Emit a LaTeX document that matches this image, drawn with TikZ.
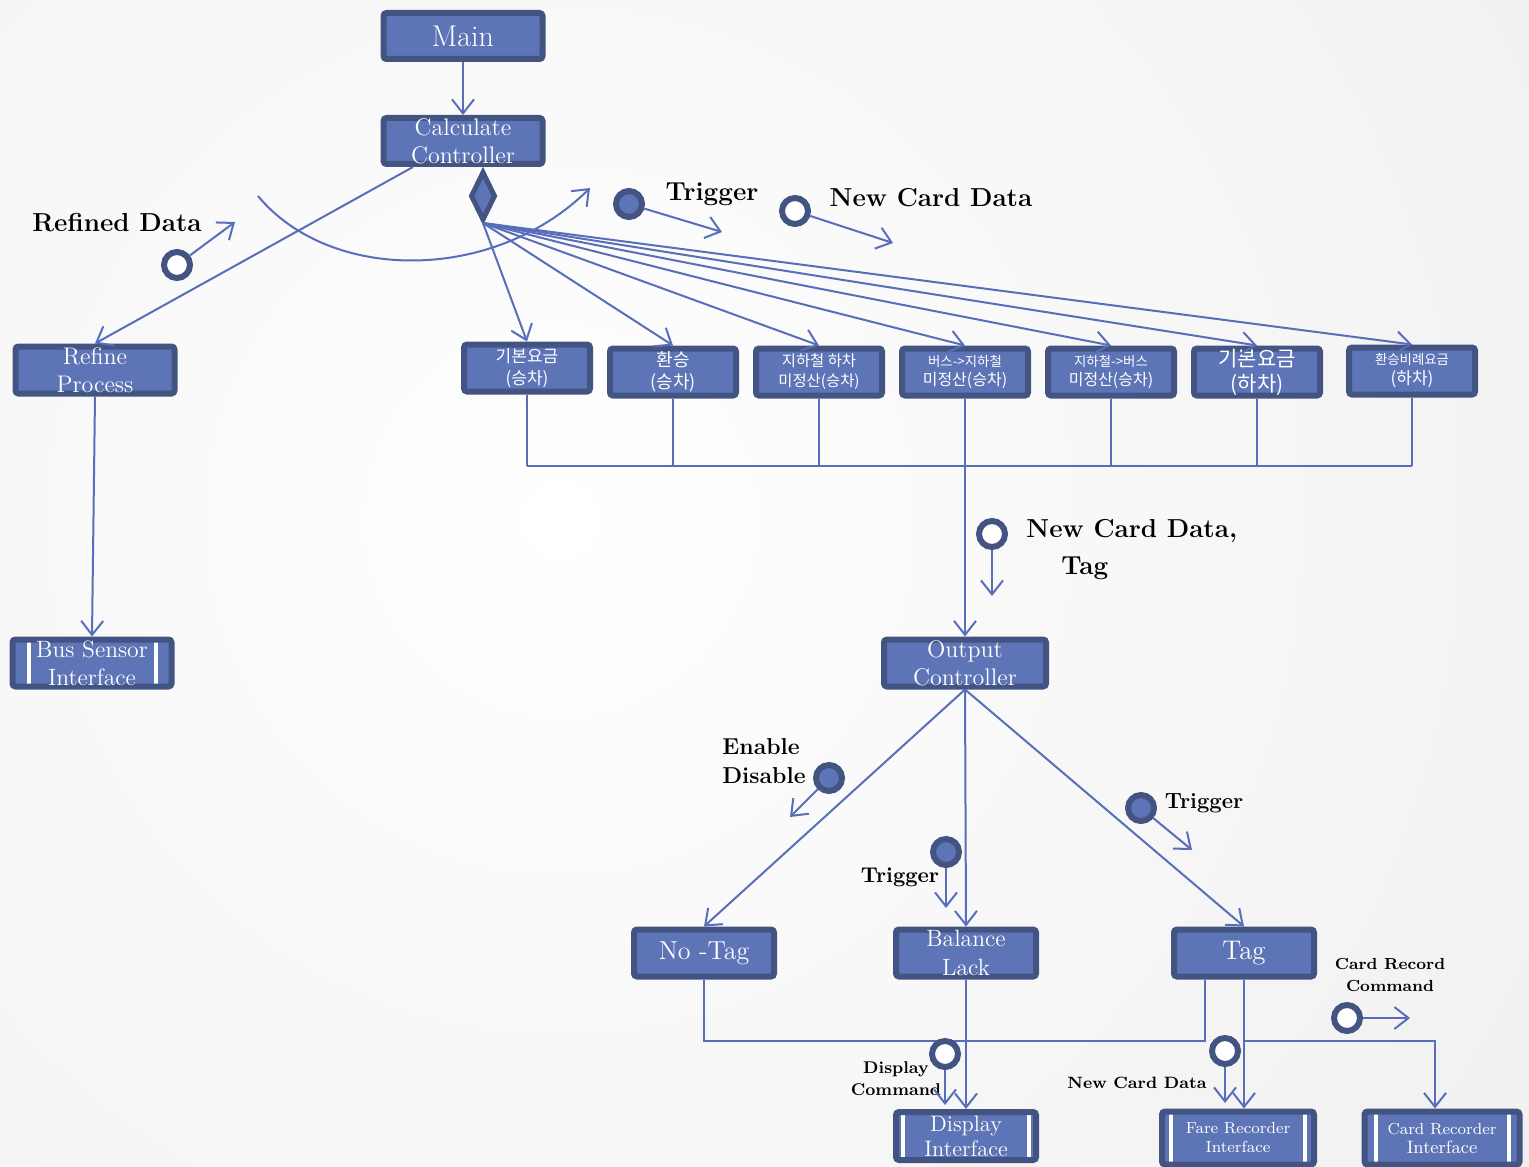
\documentclass[tikz,border=0pt]{standalone}
\usepackage{fontspec}
\newfontfamily\kr{Noto Sans CJK KR}
\usetikzlibrary{arrows.meta,calc,shapes.geometric}
\definecolor{boxblue}{RGB}{93,117,182}
\definecolor{boxdark}{RGB}{67,84,130}
\definecolor{lineblue}{RGB}{88,110,186}
\begin{document}
\begin{tikzpicture}[x=0.5pt,y=-0.5pt,
  box/.style={draw=boxdark, fill=boxblue, line width=3pt, rounded corners=1.5pt, text=white, align=center, inner sep=0pt, font=\fontsize{12}{14}\selectfont},
  kbox/.style={box, minimum width=63pt, minimum height=23.5pt},
  ifc/.style={path picture={
      \draw[white, line width=2pt] ([xshift=#1]path picture bounding box.north west) -- ([xshift=#1]path picture bounding box.south west);
      \draw[white, line width=2pt] ([xshift=-#1]path picture bounding box.north east) -- ([xshift=-#1]path picture bounding box.south east);}},
  conn/.style={draw=lineblue, line width=1pt, -{Straight Barb[length=7pt,width=11pt]}},
  plain/.style={draw=lineblue, line width=1pt},
  msgo/.style={circle, draw=boxdark, line width=3pt, fill=white, minimum size=13pt, inner sep=0pt},
  msgf/.style={msgo, fill=boxblue},
  lab/.style={font=\bfseries\fontsize{13}{15}\selectfont, align=left, inner sep=0pt},
]
\useasboundingbox (0,0) rectangle (1529,1166);
\begin{scope}
  \clip (0,0) rectangle (1529,1166);
  \shade[inner color=white, outer color=black!9] (560,520) circle (1800);
\end{scope}

% ---- boxes ----
\node[box, minimum width=79.5pt, minimum height=23pt, font=\fontsize{15}{17}\selectfont] (main) at (463,36) {Main};
\node[box, minimum width=79.5pt, minimum height=23pt] (calc) at (463,141) {Calculate\\Controller};
\node[diamond, draw=boxdark, fill=boxblue, line width=2.5pt, minimum width=12.5pt, minimum height=24.5pt, inner sep=0pt] (dia) at (483,196) {};
\node[box, minimum width=79.5pt, minimum height=23.5pt] (refine) at (95,370) {Refine\\Process};
\node[box, ifc=8pt, minimum width=79.5pt, minimum height=23.5pt, font=\fontsize{11.8}{14}\selectfont] (bus) at (92,663) {Bus Sensor\\Interface};

\node[kbox, font=\kr\fontsize{8.5}{11}\selectfont] (k1) at (527,368) {기본요금\\(승차)};
\node[kbox, font=\kr\fontsize{9}{11}\selectfont] (k2) at (673,372) {환승\\(승차)};
\node[kbox, font=\kr\fontsize{7.7}{10}\selectfont] (k3) at (819,372) {지하철 하차\\미정산(승차)};
\node[kbox, font=\kr\fontsize{8}{9.5}\selectfont] (k4) at (965,372) {{\fontsize{6.7}{8}\selectfont 버스->지하철}\\미정산(승차)};
\node[kbox, font=\kr\fontsize{8}{9.5}\selectfont] (k5) at (1111,372) {{\fontsize{6.7}{8}\selectfont 지하철->버스}\\미정산(승차)};
\node[kbox, font=\kr\fontsize{10.5}{12.5}\selectfont] (k6) at (1257,372) {기본요금\\(하차)};
\node[kbox, font=\kr\fontsize{8.5}{10}\selectfont] (k7) at (1412,371) {{\fontsize{6.7}{8}\selectfont 환승비례요금}\\(하차)};

\node[box, minimum width=81pt, minimum height=23.5pt] (out) at (965,663) {Output\\Controller};
\node[box, minimum width=70pt, minimum height=23.5pt, font=\fontsize{13}{15}\selectfont] (notag) at (704,953) {No -Tag};
\node[box, minimum width=70pt, minimum height=23.5pt, font=\fontsize{11.8}{14.5}\selectfont] (bal) at (966,953) {Balance\\Lack};
\node[box, minimum width=70pt, minimum height=23.5pt, font=\fontsize{13.5}{15}\selectfont] (tag) at (1244,953) {Tag};
\node[box, ifc=3.5pt, minimum width=70pt, minimum height=24pt, font=\fontsize{11.2}{12.5}\selectfont] (disp) at (966,1136) {Display\\Interface};
\node[box, ifc=4.5pt, minimum width=76pt, minimum height=26.5pt, font=\fontsize{8}{9.5}\selectfont] (fare) at (1238,1138) {Fare Recorder\\Interface};
\node[box, ifc=5.5pt, minimum width=77.5pt, minimum height=26.5pt, font=\fontsize{8}{9.5}\selectfont] (card) at (1442,1138) {Card Recorder\\{\fontsize{9}{10}\selectfont Interface}};

% ---- connectors ----
\draw[conn] (main) -- (calc);
\draw[conn] ($(calc.south)+(-50,0)$) -- (refine.north);
\draw[conn] (refine.south) -- (bus.north);
\foreach \k in {k1,k2,k3,k4,k5,k6,k7} {
  \draw[conn] (dia.south) -- (\k.north);
}
\coordinate (busy) at (0,466);
\foreach \k in {k1,k2,k3,k5,k6,k7} {
  \draw[plain] (\k.south) -- (\k.south |- busy);
}
\draw[plain] (k1.south |- busy) -- (k7.south |- busy);
\draw[conn] (k4.south) -- (out.north);
\draw[conn] (out.south) -- (notag.north);
\draw[conn] (out.south) -- (bal.north);
\draw[conn] (out.south) -- (tag.north);
\coordinate (lowy) at (0,1041);
\draw[plain] (notag.south) -- (notag.south |- lowy) -| ($(tag.south)+(-39,0)$);
\draw[conn] (bal.south) -- (disp.north);
\draw[conn] (tag.south) -- (tag.south |- fare.north);
\draw[conn] (tag.south |- lowy) -| ($(card.north)+(-7,0)$);

% ---- loop arc ----
\coordinate (as) at (258,196);
\coordinate (ae) at (590,188);
\draw[conn] (as) .. controls (330,283) and (494,283) .. (ae);

% ---- messages ----
\node[lab] (lrd) at (117,223) {Refined Data};
\node[msgo] (crd) at (177,265) {};
\coordinate (erd) at (235,222);
\draw[conn] (crd) -- (erd);

\node[msgf] (ct1) at (629,204) {};
\node[lab] (lt1) at (712,194) {Trigger};
\coordinate (et1) at (722,232);
\draw[conn] (ct1) -- (et1);

\node[msgo] (cn1) at (795,211) {};
\node[lab] (ln1) at (931,198) {New Card Data};
\coordinate (en1) at (893,243);
\draw[conn] (cn1) -- (en1);

\node[msgo] (cn2) at (992,534) {};
\node[lab, anchor=west] (ln2a) at (1026,531) {New Card Data,};
\node[lab, anchor=west] (ln2b) at (1061,568) {Tag};
\coordinate (en2) at (992,596);
\draw[conn] (cn2) -- (en2);

\node[lab, anchor=west, font=\bfseries\fontsize{11.5}{14.5}\selectfont] (led) at (722,761) {Enable\\Disable};
\node[msgf] (ced) at (829,778) {};
\coordinate (eed) at (790,817);
\draw[conn] (ced) -- (eed);

\node[msgf] (ct2) at (946,852) {};
\node[lab, font=\bfseries\fontsize{10.7}{13}\selectfont] (lt2) at (900,877) {Trigger};
\coordinate (et2) at (946,908);
\draw[conn] (ct2) -- (et2);

\node[msgf] (ct3) at (1141,808) {};
\node[lab, font=\bfseries\fontsize{11}{13}\selectfont] (lt3) at (1204,803) {Trigger};
\coordinate (et3) at (1192,850);
\draw[conn] (ct3) -- (et3);

\node[msgo] (cdc) at (945,1054) {};
\node[lab, align=center, font=\bfseries\fontsize{8.5}{11}\selectfont] (ldc) at (896,1079) {Display\\Command};
\coordinate (edc) at (945,1105);
\draw[conn] (cdc) -- (edc);

\node[msgo] (cn3) at (1225,1051) {};
\node[lab, font=\bfseries\fontsize{8.2}{10}\selectfont] (ln3) at (1137,1083) {New Card Data};
\coordinate (en3) at (1225,1103);
\draw[conn] (cn3) -- (en3);

\node[lab, align=center, font=\bfseries\fontsize{8}{11}\selectfont] (lcr) at (1390,975) {Card Record\\Command};
\node[msgo] (ccr) at (1347,1018) {};
\coordinate (ecr) at (1410,1018);
\draw[conn] (ccr) -- (ecr);
\end{tikzpicture}
\end{document}
